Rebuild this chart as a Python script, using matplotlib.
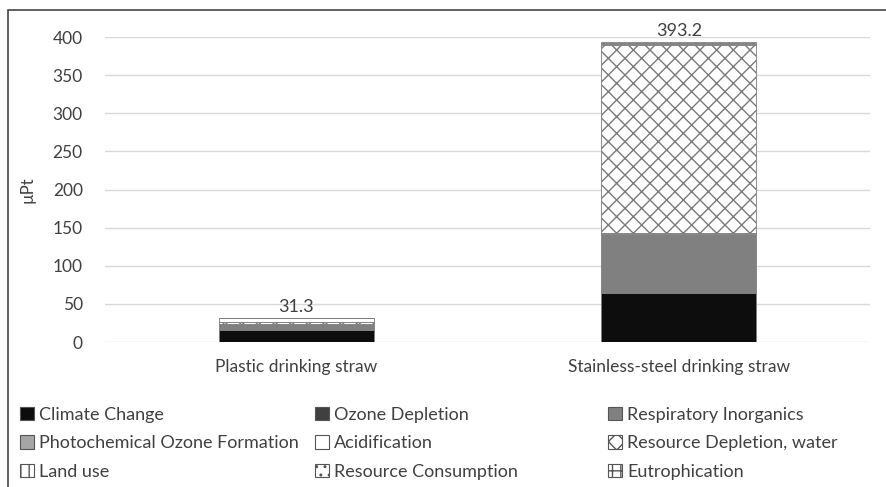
import matplotlib
matplotlib.use("Agg")
import matplotlib.pyplot as plt
from matplotlib.patches import Rectangle, Patch
import numpy as np

plt.rcParams['font.family'] = ['Lato', 'DejaVu Sans']
plt.rcParams['hatch.linewidth'] = 1.0

# data (µPt)
products = ["Plastic drinking straw", "Stainless-steel drinking straw"]
categories = ["Climate Change", "Ozone Depletion", "Respiratory Inorganics",
              "Photochemical Ozone Formation", "Acidification",
              "Resource Depletion, water", "Land use",
              "Resource Consumption", "Eutrophication"]
plastic = [15.5, 0.1, 7.5, 0.5, 0.5, 1.5, 0.5, 5.0, 0.2]
steel = [64.0, 0.2, 77.5, 0.5, 0.5, 247.0, 0.5, 2.5, 0.5]
totals = [31.3, 393.2]
yticks = [0, 50, 100, 150, 200, 250, 300, 350, 400]

# style per impact category
facecolors = ["#0d0d0d", "#404040", "#808080", "#a6a6a6", "white",
              "white", "white", "white", "white"]
hatches = [None, None, None, None, None, "xx", "||", "..", "++"]
hatch_col = "#7a7a7a"
text_col = "#404040"

fig = plt.figure(figsize=(8.86, 4.87), dpi=100)
ax = fig.add_axes([0.1185, 0.2977, 0.8635, 0.6263])

x = np.arange(len(products))
bottom = np.zeros(len(products))
handles = []
for i, cat in enumerate(categories):
    vals = np.array([plastic[i], steel[i]])
    ec = hatch_col if hatches[i] else "#7f7f7f"
    ax.bar(x, vals, width=0.405, bottom=bottom, color=facecolors[i],
           edgecolor=ec, hatch=hatches[i], linewidth=0.6, zorder=3)
    bottom += vals
    handles.append(Patch(facecolor=facecolors[i], edgecolor="#555555",
                         hatch=hatches[i], linewidth=0.8, label=cat))

for xi, t in zip(x, totals):
    ax.text(xi, t + 4, f"{t:.1f}", ha="center", va="bottom",
            fontsize=13, color=text_col)

ax.set_xlim(-0.5, 1.5)
ax.set_ylim(0, 400)
ax.set_yticks(yticks)
ax.set_xticks(x)
ax.set_xticklabels(products)
ax.tick_params(axis="both", length=0, labelsize=12.5, colors=text_col)
ax.tick_params(axis="y", pad=16)
ax.tick_params(axis="x", pad=12)
ax.grid(axis="y", color="#d9d9d9", linewidth=1, zorder=0)
for s in ax.spines.values():
    s.set_visible(False)
ax.set_ylabel("µPt", fontsize=12, color=text_col, labelpad=12)

# legend laid out row by row, one legend per column
col_x = [20, 315, 608]
for c in range(3):
    leg = fig.legend(handles=handles[c::3], loc="upper left",
                     bbox_to_anchor=(col_x[c] / 886, 1 - 407 / 487),
                     frameon=False, fontsize=13, labelcolor=text_col,
                     handlelength=0.75, handleheight=0.75, handletextpad=0.3,
                     labelspacing=0.68, borderaxespad=0, borderpad=0)

# outer frame of the figure
fig.patches.append(Rectangle((8 / 886, -0.1), 2, 1.1 - 10 / 487,
                             transform=fig.transFigure, fill=False,
                             edgecolor="#444444", linewidth=1.2))

fig.savefig("out.png", dpi=100)
